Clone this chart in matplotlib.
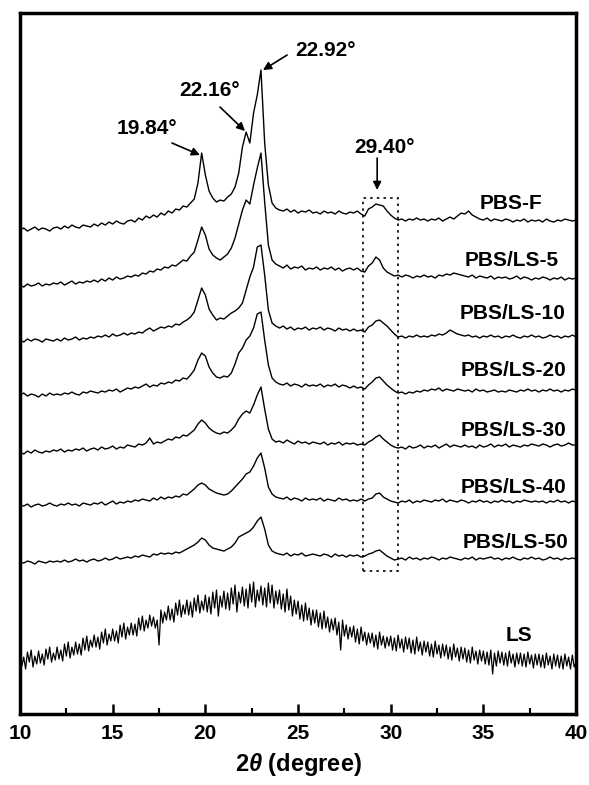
import numpy as np
import matplotlib
matplotlib.use('Agg')
import matplotlib.pyplot as plt
from matplotlib.patches import Rectangle

plt.rcParams['font.family'] = ['Liberation Sans', 'DejaVu Sans']
plt.rcParams['font.weight'] = 'bold'
plt.rcParams['mathtext.fontset'] = 'custom'
plt.rcParams['mathtext.it'] = 'Liberation Sans:italic:bold'
plt.rcParams['mathtext.rm'] = 'Liberation Sans:bold'

# 2theta sampling grid (degree) for the PBS patterns
two_theta = np.round(np.arange(10, 40.01, 0.2), 1)
# the LS pattern is noisier, read at a finer step
two_theta_ls = np.round(np.arange(10, 40.01, 0.1), 1)

# intensities (a.u.), one value per 0.2 degree
pbs_f = [
    5, 7, 4, 6, 8, 5, 7, 6, 4, 7,
    8, 6, 9, 7, 10, 8, 7, 10, 9, 8,
    11, 9, 12, 10, 13, 11, 14, 12, 11, 14,
    15, 13, 17, 15, 19, 17, 20, 18, 22, 20,
    24, 22, 26, 25, 29, 28, 32, 36, 52, 82,
    60, 44, 37, 33, 35, 34, 38, 41, 48, 62,
    88, 103, 92, 122, 140, 165, 92, 50, 32, 27,
    25, 24, 26, 23, 25, 22, 24, 23, 25, 22,
    23, 21, 24, 22, 23, 21, 24, 22, 21, 23,
    22, 24, 21, 19, 26, 28, 31, 30, 29, 24,
    20, 17, 15, 16, 14, 16, 15, 17, 15, 16,
    14, 16, 15, 17, 14, 16, 18, 16, 19, 22,
    21, 24, 20, 18, 16, 15, 17, 14, 16, 15,
    14, 16, 15, 13, 15, 14, 16, 13, 15, 14,
    15, 13, 16, 14, 13, 15, 14, 16, 15, 14,
    15]

pbs_ls5 = [
    5, 3, 6, 4, 5, 7, 4, 6, 5, 7,
    6, 8, 5, 7, 9, 6, 8, 7, 9, 8,
    10, 8, 11, 9, 12, 10, 13, 11, 12, 14,
    13, 15, 14, 17, 16, 19, 18, 21, 20, 23,
    22, 25, 24, 27, 30, 29, 34, 38, 50, 63,
    55, 41, 35, 32, 30, 33, 36, 42, 52, 66,
    80, 90, 86, 105, 122, 137, 88, 45, 30, 26,
    24, 22, 25, 21, 23, 22, 24, 20, 22, 21,
    23, 20, 22, 21, 23, 20, 22, 19, 21, 22,
    20, 22, 19, 18, 24, 27, 33, 30, 22, 18,
    16, 14, 15, 13, 15, 14, 12, 14, 13, 15,
    13, 14, 12, 15, 14, 16, 15, 17, 16, 15,
    14, 13, 15, 12, 14, 13, 12, 14, 11, 13,
    12, 13, 11, 12, 14, 11, 13, 12, 10, 12,
    11, 13, 12, 10, 12, 11, 13, 10, 12, 11,
    12]

pbs_ls10 = [
    5, 3, 6, 4, 6, 5, 3, 6, 5, 4,
    6, 4, 7, 5, 6, 8, 5, 7, 6, 8,
    7, 9, 8, 10, 8, 11, 9, 10, 12, 10,
    12, 11, 13, 12, 15, 17, 14, 16, 18, 17,
    19, 18, 21, 20, 23, 25, 28, 33, 45, 57,
    50, 36, 30, 25, 27, 26, 29, 32, 34, 37,
    42, 55, 68, 78, 98, 100, 70, 35, 22, 19,
    17, 19, 16, 18, 15, 17, 16, 18, 15, 17,
    16, 18, 15, 17, 16, 14, 17, 15, 16, 14,
    16, 14, 15, 13, 18, 20, 24, 25, 22, 19,
    15, 11, 8, 9, 7, 9, 8, 10, 8, 9,
    8, 10, 9, 11, 10, 12, 15, 13, 11, 10,
    9, 10, 8, 9, 7, 9, 8, 10, 8, 9,
    7, 9, 8, 10, 8, 7, 9, 8, 10, 8,
    9, 7, 8, 10, 8, 9, 7, 9, 8, 10,
    8]

pbs_ls20 = [
    5, 7, 4, 6, 5, 3, 6, 4, 7, 5,
    6, 5, 7, 6, 8, 6, 5, 8, 7, 9,
    8, 7, 9, 8, 10, 9, 11, 8, 10, 12,
    11, 13, 12, 14, 16, 13, 15, 14, 17, 16,
    18, 17, 20, 19, 22, 21, 25, 30, 40, 47,
    44, 33, 27, 23, 22, 24, 23, 27, 36, 47,
    52, 60, 64, 72, 86, 88, 60, 35, 22, 18,
    16, 15, 17, 14, 16, 15, 13, 16, 14, 15,
    14, 16, 13, 15, 14, 16, 13, 15, 14, 12,
    14, 12, 13, 11, 15, 18, 22, 23, 19, 15,
    12, 9, 7, 8, 6, 8, 7, 9, 8, 10,
    9, 11, 10, 12, 9, 11, 10, 9, 11, 10,
    9, 10, 8, 11, 9, 10, 8, 9, 10, 8,
    9, 8, 10, 9, 8, 10, 9, 11, 9, 10,
    8, 10, 9, 11, 9, 10, 8, 10, 9, 11,
    10]

pbs_ls30 = [
    5, 3, 6, 4, 7, 5, 4, 6, 5, 7,
    6, 8, 5, 7, 6, 8, 7, 9, 6, 8,
    9, 7, 10, 8, 9, 11, 8, 10, 9, 12,
    11, 10, 13, 12, 14, 19, 13, 15, 14, 16,
    18, 17, 20, 19, 22, 21, 24, 27, 33, 37,
    34, 29, 26, 24, 23, 25, 24, 27, 31, 38,
    43, 46, 44, 52, 62, 70, 48, 28, 18, 15,
    16, 14, 17, 15, 13, 16, 14, 15, 13, 15,
    14, 13, 15, 12, 14, 13, 15, 12, 14, 13,
    14, 12, 13, 12, 15, 17, 20, 22, 18, 15,
    12, 10, 9, 10, 8, 11, 9, 10, 12, 9,
    11, 10, 12, 9, 11, 13, 10, 12, 11, 10,
    12, 10, 11, 9, 12, 10, 11, 13, 10, 12,
    11, 13, 10, 12, 11, 10, 12, 11, 13, 12,
    11, 13, 12, 10, 12, 13, 11, 12, 14, 12,
    12]

pbs_ls40 = [
    5, 4, 6, 3, 5, 6, 4, 5, 7, 5,
    4, 6, 5, 7, 5, 6, 4, 7, 6, 5,
    7, 6, 8, 5, 7, 9, 6, 8, 7, 9,
    8, 10, 9, 11, 10, 9, 12, 10, 13, 11,
    13, 12, 14, 13, 16, 15, 18, 21, 25, 27,
    25, 21, 19, 17, 16, 15, 16, 19, 23, 27,
    31, 36, 38, 44, 52, 57, 42, 23, 16, 13,
    12, 11, 13, 10, 12, 11, 9, 12, 10, 11,
    10, 12, 9, 11, 10, 9, 12, 10, 11, 9,
    10, 9, 11, 9, 11, 12, 16, 17, 13, 11,
    9, 8, 7, 9, 8, 10, 7, 9, 8, 10,
    9, 8, 10, 9, 11, 8, 10, 9, 8, 10,
    9, 7, 9, 8, 10, 8, 9, 7, 9, 8,
    10, 8, 9, 7, 9, 8, 10, 9, 8, 9,
    8, 9, 7, 9, 8, 10, 8, 9, 7, 9,
    8]

pbs_ls50 = [
    5, 4, 6, 5, 3, 6, 5, 4, 6, 5,
    6, 5, 7, 5, 6, 8, 6, 7, 5, 7,
    8, 6, 7, 9, 7, 8, 10, 8, 9, 10,
    9, 11, 10, 12, 11, 10, 13, 12, 14, 13,
    14, 13, 15, 14, 16, 18, 20, 22, 25, 29,
    27, 22, 19, 18, 17, 16, 18, 20, 24, 30,
    32, 34, 36, 40, 46, 50, 38, 22, 16, 14,
    13, 12, 14, 11, 13, 12, 14, 11, 12, 13,
    12, 11, 13, 12, 10, 13, 11, 12, 10, 12,
    11, 12, 10, 11, 13, 14, 16, 17, 14, 11,
    9, 7, 8, 9, 7, 10, 8, 9, 7, 9,
    8, 10, 9, 7, 9, 8, 10, 9, 8, 7,
    9, 8, 10, 7, 9, 8, 9, 10, 8, 9,
    7, 9, 8, 10, 8, 7, 9, 8, 10, 8,
    9, 7, 8, 10, 8, 9, 7, 9, 8, 9,
    8]

# LS, one value per 0.1 degree (one row = one degree)
ls = [
    26, 14, 23, 11, 28, 18, 30, 13, 24, 16,
    29, 17, 26, 15, 31, 21, 33, 18, 27, 20,
    33, 21, 30, 19, 36, 24, 38, 22, 33, 25,
    38, 26, 36, 25, 42, 30, 44, 29, 40, 33,
    45, 33, 43, 31, 48, 37, 51, 35, 46, 39,
    51, 39, 49, 37, 55, 43, 57, 41, 53, 45,
    57, 45, 56, 44, 62, 50, 64, 49, 60, 52,
    65, 54, 63, 52, 60, 35, 70, 57, 68, 60,
    74, 60, 71, 58, 77, 65, 80, 63, 75, 66,
    80, 65, 78, 63, 82, 69, 85, 67, 79, 70,
    85, 68, 83, 66, 88, 72, 90, 64, 84, 73,
    89, 71, 87, 70, 92, 76, 95, 68, 88, 77,
    93, 74, 91, 72, 96, 78, 98, 73, 90, 79,
    94, 75, 92, 73, 97, 77, 95, 72, 89, 76,
    90, 71, 86, 68, 91, 70, 84, 64, 80, 66,
    79, 61, 75, 59, 77, 60, 72, 55, 70, 57,
    70, 53, 67, 51, 69, 52, 63, 48, 61, 50,
    62, 45, 58, 30, 60, 44, 55, 41, 53, 43,
    54, 38, 51, 36, 53, 39, 48, 35, 47, 37,
    47, 33, 45, 31, 48, 35, 44, 32, 43, 34,
    44, 30, 42, 29, 45, 32, 41, 28, 43, 31,
    42, 27, 40, 26, 43, 29, 38, 25, 39, 28,
    38, 24, 36, 23, 39, 26, 35, 22, 36, 24,
    35, 21, 33, 20, 36, 23, 32, 19, 33, 21,
    32, 18, 30, 17, 33, 20, 29, 16, 30, 19,
    29, 16, 28, 15, 30, 6, 27, 14, 29, 17,
    28, 15, 27, 14, 29, 17, 26, 13, 27, 16,
    27, 14, 26, 13, 28, 16, 25, 12, 26, 15,
    26, 13, 25, 12, 27, 15, 24, 11, 26, 14,
    25, 12, 24, 11, 26, 14, 23, 11, 25, 13,
    18]

curves = [pbs_f, pbs_ls5, pbs_ls10, pbs_ls20, pbs_ls30, pbs_ls40, pbs_ls50]
names = ['PBS-F', 'PBS/LS-5', 'PBS/LS-10', 'PBS/LS-20',
         'PBS/LS-30', 'PBS/LS-40', 'PBS/LS-50', 'LS']

# vertical stacking of the patterns
offsets = [479, 424, 369, 314, 257, 204, 147]
ls_offset = 34
label_pos = [(36.5, 511), (36.55, 454), (36.55, 401), (36.65, 344),
             (36.65, 284), (36.65, 227), (36.75, 172), (36.9, 79)]

fig = plt.figure(figsize=(5.89, 7.85), dpi=100)
ax = fig.add_axes([0.034, 0.0904, 0.944, 0.893])

for vals, off in zip(curves, offsets):
    ax.plot(two_theta, np.array(vals) + off, color='black', lw=1.0)
ax.plot(two_theta_ls, np.array(ls) + ls_offset, color='black', lw=0.9)

for name, (x, y) in zip(names, label_pos):
    ax.text(x, y, name, ha='center', va='center', fontsize=15, fontweight='bold')

# peak annotations
peak_text = [('19.84°', 16.85, 586), ('22.16°', 20.2, 624),
             ('22.92°', 26.5, 664), ('29.40°', 29.64, 567)]
peak_arrows = [((18.2, 571), (19.71, 559)), ((20.79, 607), (22.14, 583)),
               ((24.41, 659), (23.11, 644)), ((29.27, 556), (29.27, 524))]
for t, x, y in peak_text:
    ax.text(x, y, t, ha='center', va='center', fontsize=15, fontweight='bold')
for tail, head in peak_arrows:
    ax.annotate('', xy=head, xytext=tail,
                arrowprops=dict(arrowstyle='-|>', color='black', lw=1.2,
                                mutation_scale=12, shrinkA=0, shrinkB=0))

# dotted box round the 29.40 reflection
ax.add_patch(Rectangle((28.5, 143), 1.9, 373, fill=False, ls=(0, (1.5, 2.5)),
                       lw=1.2, ec='black'))

ax.set_xlim(10, 40)
ax.set_ylim(0, 701)
ax.set_yticks([])
xticks = [10, 15, 20, 25, 30, 35, 40]
ax.set_xticks(xticks, labels=[str(t) for t in xticks], fontweight='bold', fontsize=15)
ax.set_xticks(np.arange(12.5, 40, 5), minor=True)
ax.tick_params(axis='x', which='major', direction='in', length=7, width=1.8, pad=7)
ax.tick_params(axis='x', which='minor', direction='in', length=4, width=1.5)
for sp in ax.spines.values():
    sp.set_linewidth(2.5)

ax.set_xlabel(r'2$\theta$ (degree)', fontsize=17, fontweight='bold', labelpad=6)

fig.savefig('out.png', dpi=100)
